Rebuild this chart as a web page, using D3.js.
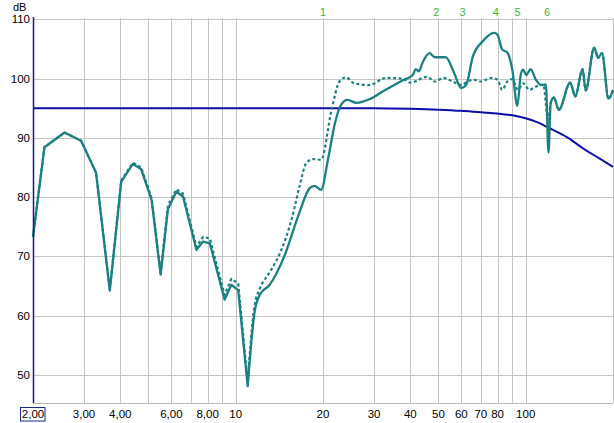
<!DOCTYPE html>
<html><head><meta charset="utf-8">
<script src="https://cdn.jsdelivr.net/npm/d3@7"></script>
<style>body{margin:0;background:#fff}svg{display:block;font-family:"Liberation Sans",Arial,sans-serif}</style>
</head><body><svg id="c" width="614" height="423"></svg>
<script>
// Data
const measuredFreq = [2.00,2.19,2.57,2.93,3.30,3.68,4.03,4.42,4.72,5.13,5.51,5.84,6.24,6.58,7.32,7.72,8.14,9.16,9.66,10.2,11.0,11.6,12.1,13.1,14.7,16.4,18.0,18.7,19.7,20.8,22.0,23.1,24.3,26.1,28.9,32.1,37.7,40.8,41.8,42.8,44.0,46.6,48.6,53.0,56.7,59.9,62.3,65.7,71.1,77.8,79.9,83.0,86.4,89.9,93.6,96.1,97.9,100.5,104.0,108.4,112.8,117.4,119.8,122.0,125.2,130.0,142.4,148.3,157.0,161.0,172.2,177.7,183.2,193.0,200.0];
const measuredDb   = [73.3,88.4,90.9,89.5,84.1,64.2,82.6,85.6,84.7,79.5,66.9,78.0,80.9,80.1,71.1,72.5,72.2,62.7,65.2,64.3,48.1,60.4,63.5,65.2,70.0,76.7,81.5,81.9,81.2,86.3,92.5,95.6,96.4,95.9,96.5,97.8,99.7,100.6,101.6,101.2,102.6,104.3,103.6,103.6,100.9,98.4,98.9,103.7,106.3,107.7,107.4,104.9,104.4,101.5,95.4,100.6,101.5,100.6,101.6,99.8,98.9,99.0,87.5,95.9,96.8,94.7,99.3,97.0,101.6,98.0,105.2,103.5,104.3,96.6,98.1];

const predictedFreq = [2.00,2.19,2.57,2.93,3.30,3.68,4.03,4.42,4.72,5.13,5.51,5.84,6.24,6.58,7.32,7.72,8.14,9.16,9.66,10.2,11.0,11.6,12.1,13.1,14.2,15.6,16.6,17.5,18.5,19.7,21.4,22.8,24.0,25.6,28.9,33.0,37.7,40.0,45.7,48.6,52.0,56.0,60.0,63.0,66.0,70.0,76.0,80.0,83.0,86.4,89.9,94.0,98.0,103.0,108.0,115.0,119.5,122.0,125.2,130.0,142.4,148.3,157.0,161.0,172.2,177.7,183.2,193.0,200.0];
const predictedDb   = [73.3,88.4,90.9,89.5,84.1,64.4,82.8,85.8,85.0,79.8,67.2,78.6,81.3,80.6,71.6,73.3,73.0,63.5,66.2,65.4,48.8,61.5,64.5,67.3,70.5,76.3,81.8,85.7,86.4,86.3,94.7,99.5,100.2,99.2,98.9,100.1,100.0,99.3,100.3,99.5,100.1,99.5,98.9,99.5,99.8,99.5,100.1,99.8,98.1,99.5,99.9,98.1,99.2,98.1,98.6,99.0,93.0,95.9,96.8,94.7,99.3,97.0,101.6,98.0,105.2,103.5,104.3,96.6,98.1];

const targetFreq = [2,20,30,40,50,60,70,80,90,100,110,120,140,160,180,200];
const targetDb   = [95,95,95,94.9,94.75,94.55,94.3,94.1,93.8,93.3,92.6,91.7,90.0,88.0,86.5,85.1];

const xTicks = [2,3,4,5,6,7,8,9,10,20,30,40,50,60,70,80,90,100,200];
const xLabels = {3:"3,00",4:"4,00",6:"6,00",8:"8,00",10:"10",20:"20",30:"30",40:"40",50:"50",60:"60",70:"70",80:"80",100:"100"};
const yTicks = [50,60,70,80,90,100,110];
const markerFreq = [20,49.2,60.6,78.9,93.8,118.5];
const markerLabels = ["1","2","3","4","5","6"];

const svg = d3.select("#c");
const x = d3.scaleLog().domain([2,200]).range([33,613]);
const y = d3.scaleLinear().domain([45.2,110]).range([403.3,19.3]);

// grid
svg.append("g").selectAll("line").data(xTicks).join("line")
  .attr("x1",d=>Math.round(x(d))+0.5).attr("x2",d=>Math.round(x(d))+0.5)
  .attr("y1",18).attr("y2",403).attr("stroke","#c4c4c4").attr("stroke-width",1);
svg.append("g").selectAll("line").data(yTicks).join("line")
  .attr("x1",33).attr("x2",613).attr("y1",d=>Math.round(y(d))+0.5).attr("y2",d=>Math.round(y(d))+0.5)
  .attr("stroke","#c4c4c4").attr("stroke-width",1);
svg.append("line").attr("x1",33).attr("x2",613).attr("y1",403.5).attr("y2",403.5).attr("stroke","#b8b8b8");

// axis labels
svg.append("g").selectAll("text").data(yTicks).join("text")
  .attr("x",30).attr("y",d=>y(d)+4).attr("text-anchor","end")
  .attr("font-size","11.5px").attr("fill","#000").text(d=>d);
svg.append("text").attr("x",13).attr("y",11).attr("font-size","11px").text("dB");
svg.append("g").selectAll("text").data(xTicks.filter(d=>xLabels[d])).join("text")
  .attr("x",d=>x(d)).attr("y",418).attr("text-anchor","middle")
  .attr("font-size","11.5px").text(d=>xLabels[d]);
svg.append("text").attr("x",x(2)).attr("y",418).attr("text-anchor","middle").attr("font-size","11.5px").text("2,00");
svg.append("rect").attr("x",20.5).attr("y",407.5).attr("width",24.5).attr("height",13.5)
  .attr("fill","none").attr("stroke","#1a2a8a").attr("stroke-width",1);

// markers
svg.append("g").selectAll("text").data(markerFreq).join("text")
  .attr("x",d=>x(d)).attr("y",16).attr("text-anchor","middle")
  .attr("font-size","11px").attr("fill","#3cb43c").text((d,i)=>markerLabels[i]);

// low part drawn as straight segments, upper part smoothed; split at 11 Hz
const split = 11.0;
const lineLin = d3.line().x(d=>x(d[0])).y(d=>y(d[1]));
const lineSm = d3.line().x(d=>x(d[0])).y(d=>y(d[1])).curve(d3.curveMonotoneX);
function drawSeries(freqs, dbs, attrs){
  const pts = freqs.map((f,i)=>[f,dbs[i]]);
  const d = lineLin(pts.filter(p=>p[0]<=split)) + lineSm(pts.filter(p=>p[0]>=split)).replace(/^M/,"L");
  const p = svg.append("path").attr("d",d).attr("fill","none");
  Object.entries(attrs).forEach(([k,v])=>p.attr(k,v));
}
svg.append("path").datum(targetFreq.map((f,i)=>[f,targetDb[i]]))
  .attr("d",lineSm).attr("fill","none").attr("stroke","#0c0ca8").attr("stroke-width",2);
drawSeries(predictedFreq, predictedDb, {"stroke":"#1a8080","stroke-width":2.2,"stroke-dasharray":"3,2.5","stroke-linejoin":"round"});
drawSeries(measuredFreq, measuredDb, {"stroke":"#1a8080","stroke-width":2.3,"stroke-linejoin":"round"});

// left axis
svg.append("line").attr("x1",33.5).attr("x2",33.5).attr("y1",17).attr("y2",403).attr("stroke","#1a1a80").attr("stroke-width",1.5);
</script></body></html>
